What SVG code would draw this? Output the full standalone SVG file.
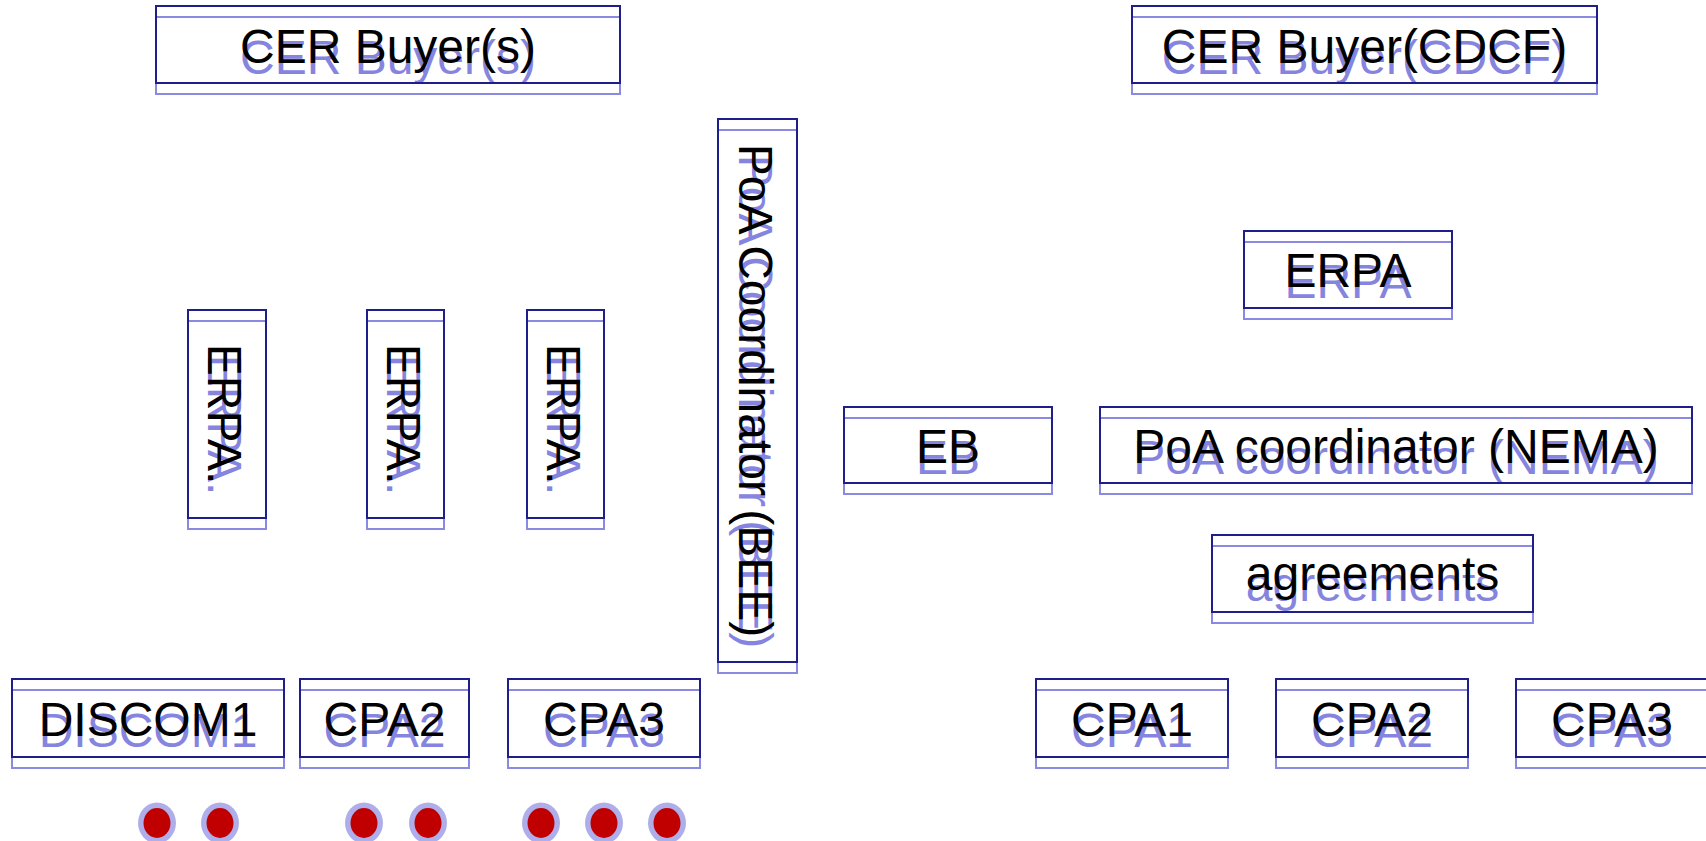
<svg xmlns="http://www.w3.org/2000/svg" width="1706" height="841" viewBox="0 0 1706 841">
  <style>
    .box { fill: none; stroke: #1e1e8c; stroke-width: 2; }
    .gbox { fill: none; stroke: #8a8ae2; stroke-width: 2; }
    .label { font-family: "Liberation Sans", Arial, sans-serif; font-size: 48px; fill: #000000; text-anchor: middle; }
    .glabel { font-family: "Liberation Sans", Arial, sans-serif; font-size: 48px; fill: #8585e0; text-anchor: middle; }
    .halo { fill: #aeaeea; }
    .dot { fill: #c00000; }
  </style>

  <rect x="0" y="0" width="1706" height="841" fill="#ffffff"/>

  <!-- left scheme -->
  <g id="cer-buyers">
    <rect class="gbox" x="156" y="17" width="464" height="77"/>
    <text class="glabel" x="388" y="74">CER Buyer(s)</text>
    <rect class="box" x="156" y="6" width="464" height="77"/>
    <text class="label" x="388" y="63">CER Buyer(s)</text>
  </g>

  <g id="erpa-1">
    <rect class="gbox" x="188" y="321" width="78" height="208"/>
    <text class="glabel" transform="translate(227,425) rotate(90)" x="0" y="19">ERPA.</text>
    <rect class="box" x="188" y="310" width="78" height="208"/>
    <text class="label" transform="translate(227,414) rotate(90)" x="0" y="19">ERPA.</text>
  </g>

  <g id="erpa-2">
    <rect class="gbox" x="367" y="321" width="77" height="208"/>
    <text class="glabel" transform="translate(405.5,425) rotate(90)" x="0" y="19">ERPA.</text>
    <rect class="box" x="367" y="310" width="77" height="208"/>
    <text class="label" transform="translate(405.5,414) rotate(90)" x="0" y="19">ERPA.</text>
  </g>

  <g id="erpa-3">
    <rect class="gbox" x="527" y="321" width="77" height="208"/>
    <text class="glabel" transform="translate(565.5,425) rotate(90)" x="0" y="19">ERPA.</text>
    <rect class="box" x="527" y="310" width="77" height="208"/>
    <text class="label" transform="translate(565.5,414) rotate(90)" x="0" y="19">ERPA.</text>
  </g>

  <g id="poa-bee">
    <rect class="gbox" x="718" y="130" width="79" height="543"/>
    <text class="glabel" transform="translate(757.5,401.5) rotate(90)" x="0" y="19">PoA Coordinator (BEE)</text>
    <rect class="box" x="718" y="119" width="79" height="543"/>
    <text class="label" transform="translate(757.5,390.5) rotate(90)" x="0" y="19">PoA Coordinator (BEE)</text>
  </g>

  <g id="discom1">
    <rect class="gbox" x="12" y="690" width="272" height="78"/>
    <text class="glabel" x="148" y="747">DISCOM1</text>
    <rect class="box" x="12" y="679" width="272" height="78"/>
    <text class="label" x="148" y="736">DISCOM1</text>
  </g>

  <g id="cpa2-left">
    <rect class="gbox" x="300" y="690" width="169" height="78"/>
    <text class="glabel" x="384.5" y="747">CPA2</text>
    <rect class="box" x="300" y="679" width="169" height="78"/>
    <text class="label" x="384.5" y="736">CPA2</text>
  </g>

  <g id="cpa3-left">
    <rect class="gbox" x="508" y="690" width="192" height="78"/>
    <text class="glabel" x="604" y="747">CPA3</text>
    <rect class="box" x="508" y="679" width="192" height="78"/>
    <text class="label" x="604" y="736">CPA3</text>
  </g>

  <!-- right scheme -->
  <g id="cer-buyer-cdcf">
    <rect class="gbox" x="1132" y="17" width="465" height="77"/>
    <text class="glabel" x="1364.5" y="74">CER Buyer(CDCF)</text>
    <rect class="box" x="1132" y="6" width="465" height="77"/>
    <text class="label" x="1364.5" y="63">CER Buyer(CDCF)</text>
  </g>

  <g id="erpa-right">
    <rect class="gbox" x="1244" y="242" width="208" height="77"/>
    <text class="glabel" x="1348" y="298">ERPA</text>
    <rect class="box" x="1244" y="231" width="208" height="77"/>
    <text class="label" x="1348" y="287">ERPA</text>
  </g>

  <g id="eb">
    <rect class="gbox" x="844" y="418" width="208" height="76"/>
    <text class="glabel" x="948" y="474">EB</text>
    <rect class="box" x="844" y="407" width="208" height="76"/>
    <text class="label" x="948" y="463">EB</text>
  </g>

  <g id="poa-nema">
    <rect class="gbox" x="1100" y="418" width="592" height="76"/>
    <text class="glabel" x="1396" y="474">PoA coordinator (NEMA)</text>
    <rect class="box" x="1100" y="407" width="592" height="76"/>
    <text class="label" x="1396" y="463">PoA coordinator (NEMA)</text>
  </g>

  <g id="agreements">
    <rect class="gbox" x="1212" y="546" width="321" height="77"/>
    <text class="glabel" x="1372.5" y="601">agreements</text>
    <rect class="box" x="1212" y="535" width="321" height="77"/>
    <text class="label" x="1372.5" y="590">agreements</text>
  </g>

  <g id="cpa1-right">
    <rect class="gbox" x="1036" y="690" width="192" height="78"/>
    <text class="glabel" x="1132" y="747">CPA1</text>
    <rect class="box" x="1036" y="679" width="192" height="78"/>
    <text class="label" x="1132" y="736">CPA1</text>
  </g>

  <g id="cpa2-right">
    <rect class="gbox" x="1276" y="690" width="192" height="78"/>
    <text class="glabel" x="1372" y="747">CPA2</text>
    <rect class="box" x="1276" y="679" width="192" height="78"/>
    <text class="label" x="1372" y="736">CPA2</text>
  </g>

  <g id="cpa3-right">
    <rect class="gbox" x="1516" y="690" width="193" height="78"/>
    <text class="glabel" x="1612" y="747">CPA3</text>
    <rect class="box" x="1516" y="679" width="193" height="78"/>
    <text class="label" x="1612" y="736">CPA3</text>
  </g>

  <g id="connectors"/>

  <!-- project activity markers under the left CPAs -->
  <g id="markers">
    <ellipse class="halo" cx="157" cy="823" rx="19" ry="20.5"/>
    <ellipse class="dot" cx="157" cy="823" rx="13.5" ry="15"/>
    <ellipse class="halo" cx="220" cy="823" rx="19" ry="20.5"/>
    <ellipse class="dot" cx="220" cy="823" rx="13.5" ry="15"/>
    <ellipse class="halo" cx="364" cy="823" rx="19" ry="20.5"/>
    <ellipse class="dot" cx="364" cy="823" rx="13.5" ry="15"/>
    <ellipse class="halo" cx="428" cy="823" rx="19" ry="20.5"/>
    <ellipse class="dot" cx="428" cy="823" rx="13.5" ry="15"/>
    <ellipse class="halo" cx="541" cy="823" rx="19" ry="20.5"/>
    <ellipse class="dot" cx="541" cy="823" rx="13.5" ry="15"/>
    <ellipse class="halo" cx="604" cy="823" rx="19" ry="20.5"/>
    <ellipse class="dot" cx="604" cy="823" rx="13.5" ry="15"/>
    <ellipse class="halo" cx="667" cy="823" rx="19" ry="20.5"/>
    <ellipse class="dot" cx="667" cy="823" rx="13.5" ry="15"/>
  </g>
</svg>
